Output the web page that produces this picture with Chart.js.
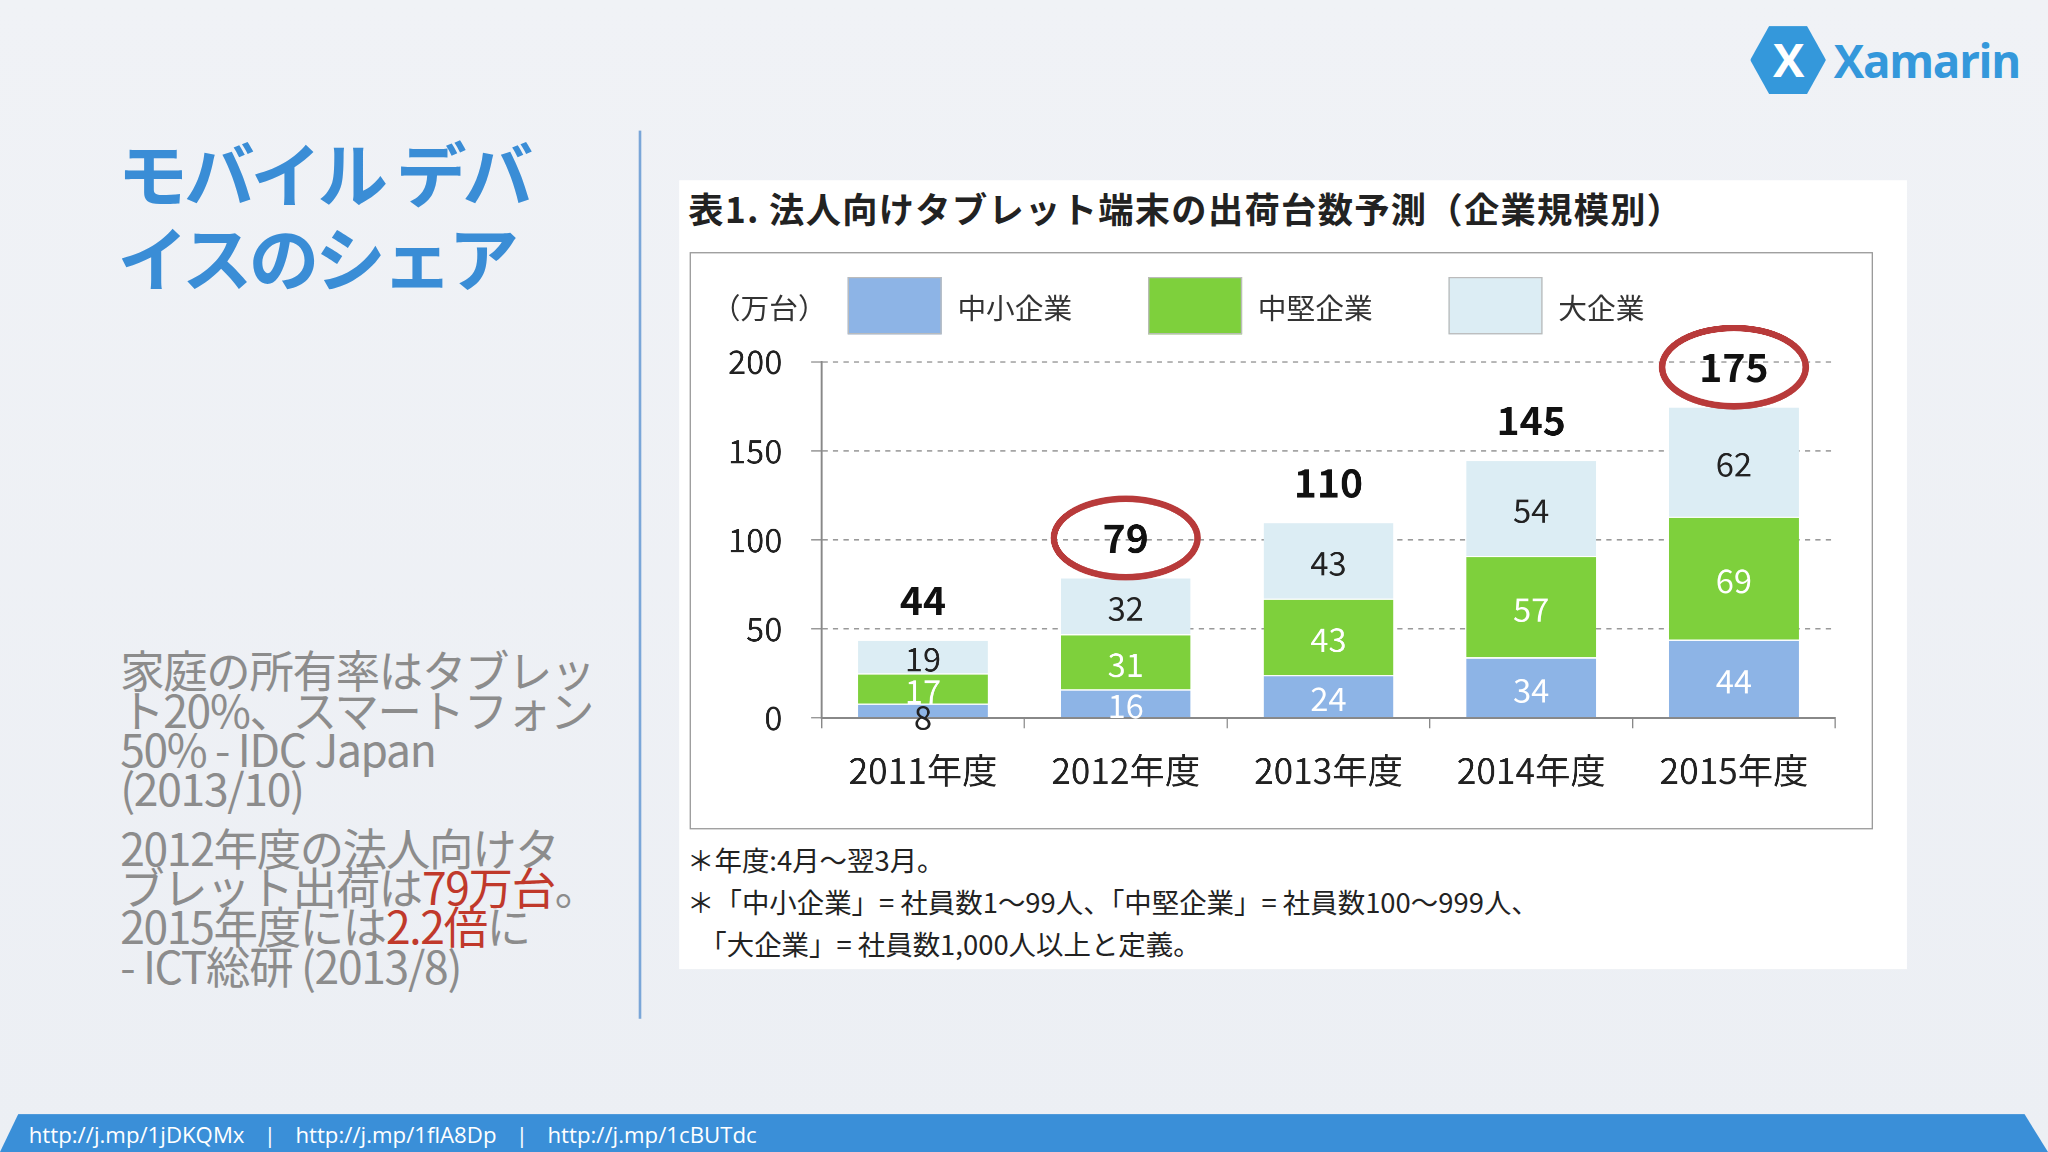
<!DOCTYPE html>
<html><head><meta charset="utf-8">
<script src="https://cdn.jsdelivr.net/npm/chart.js@4"></script>
<style>
html,body{margin:0;padding:0;background:#eef1f5;overflow:hidden}
#slide{position:absolute;left:0;top:0;width:1568px;height:882px;transform:scale(1.30612);transform-origin:0 0;
 font-family:"Noto Sans CJK JP","Noto Sans",sans-serif;background:linear-gradient(#f0f2f6,#eceff4)}
.abs{position:absolute}
#title{left:90px;top:100px;color:#3a8dd6;font-size:54px;font-weight:bold;line-height:64px;letter-spacing:-3px}
#body{left:92px;top:498px;color:#8c8c8c;font-size:34px;line-height:30px;white-space:nowrap;letter-spacing:-1px}
#body p{margin:0 0 16px 0}
.red{color:#c0392b}
#divider{left:489px;top:100px;width:2px;height:680px;background:#7aa6d8}
#panel{left:520px;top:138px;width:940px;height:604px;background:#fff}
#ctitle{left:527px;top:140px;font-size:27px;font-weight:bold;color:#222;letter-spacing:1px}
#box{left:528px;top:193px;width:904px;height:440px;border:1.5px solid #999;background:#fff}
#legend{left:545px;top:212px;font-size:22px;color:#333;display:flex;align-items:center}
.lg{display:flex;align-items:center}
.sw{width:70px;height:42px;margin-right:12px;border:1px solid #bbb}
#notes{left:526px;top:642px;font-size:21px;color:#222;line-height:32px}
#footer{left:0;top:853px;width:1568px;height:29px;background:#3a8fd8;clip-path:polygon(14px 0,1550px 0,1568px 100%,0 100%);
 color:#fff;font-size:17px;line-height:31px;padding-left:22px;box-sizing:border-box;font-family:"Open Sans",sans-serif;word-spacing:3px}
#logo{left:1340px;top:20px;display:flex;align-items:center;color:#3498db;font-size:35px;font-weight:bold;font-family:"Open Sans",sans-serif;letter-spacing:-1px}
#hex{width:58px;height:52px;background:#3498db;clip-path:polygon(25% 0,75% 0,100% 50%,75% 100%,25% 100%,0 50%);
 color:#fff;font-size:36px;text-align:center;line-height:52px;margin-right:6px}
</style></head>
<body>
<div id="slide">
 <div id="logo" class="abs"><div id="hex">X</div>Xamarin</div>
 <div id="title" class="abs">モバイル デバ<br>イスのシェア</div>
 <div id="body" class="abs">
  <p>家庭の所有率はタブレッ<br>ト20%、スマートフォン<br>50% - IDC Japan<br>(2013/10)</p>
  <p>2012年度の法人向けタ<br>ブレット出荷は<span class="red">79万台</span>。<br>2015年度には<span class="red">2.2倍</span>に<br>- ICT総研 (2013/8)</p>
 </div>
 <div id="divider" class="abs"></div>
 <div id="panel" class="abs"></div>
 <div id="ctitle" class="abs">表1. 法人向けタブレット端末の出荷台数予測（企業規模別）</div>
 <div id="box" class="abs"><canvas id="chart" width="904" height="440"></canvas></div>
 <div id="legend" class="abs"></div>
 <div id="notes" class="abs">＊年度:4月～翌3月。<br>＊「中小企業」= 社員数1～99人、「中堅企業」= 社員数100～999人、<br>&nbsp;&nbsp;「大企業」= 社員数1,000人以上と定義。</div>
 <div id="footer" class="abs">http://j.mp/1jDKQMx &nbsp;| &nbsp;http://j.mp/1flA8Dp &nbsp;| &nbsp;http://j.mp/1cBUTdc</div>
</div>
<script>
const years = ['2011年度', '2012年度', '2013年度', '2014年度', '2015年度'];
const seriesNames = ['中小企業', '中堅企業', '大企業'];
const small = [8, 16, 24, 34, 44];
const medium = [17, 31, 43, 57, 69];
const large = [19, 32, 43, 54, 62];
const totals = [44, 79, 110, 145, 175];
const circled = [1, 4];
const colors = ['#8db4e6', '#7ed03c', '#dcedf4'];
const labelColors = ['#ffffff', '#ffffff', '#222222'];

const leg = document.getElementById('legend');
leg.innerHTML = '<span style="width:104px">（万台）</span>' + seriesNames.map((n, i) =>
  `<div class="lg" style="width:230px"><div class="sw" style="background:${colors[i]}"></div>${n}</div>`).join('');

const labelPlugin = {
  id: 'labels',
  afterDatasetsDraw(chart) {
    const ctx = chart.ctx;
    ctx.save();
    ctx.textAlign = 'center';
    ctx.textBaseline = 'middle';
    chart.data.datasets.forEach((ds, di) => {
      chart.getDatasetMeta(di).data.forEach((bar, i) => {
        const h = bar.base - bar.y;
        ctx.font = '25px "Noto Sans CJK JP", sans-serif';
        ctx.fillStyle = h < 20 ? '#222' : labelColors[di];
        ctx.fillText(ds.data[i], bar.x, h < 20 ? bar.base : (bar.y + bar.base) / 2 + 2);
      });
    });
    const top = chart.getDatasetMeta(2).data;
    top.forEach((bar, i) => {
      const y = bar.y - 30;
      ctx.font = 'bold 30px "Noto Sans CJK JP", sans-serif';
      ctx.fillStyle = '#111';
      ctx.fillText(totals[i], bar.x, y);
      if (circled.includes(i)) {
        ctx.strokeStyle = '#b83a3a';
        ctx.lineWidth = 5;
        ctx.beginPath();
        ctx.ellipse(bar.x, y, 55, 30, 0, 0, Math.PI * 2);
        ctx.stroke();
      }
    });
    ctx.restore();
  }
};

new Chart(document.getElementById('chart'), {
  type: 'bar',
  data: {
    labels: years,
    datasets: [small, medium, large].map((d, i) => ({
      label: seriesNames[i], data: d, backgroundColor: colors[i],
      borderColor: '#ffffff', borderWidth: {top: 1}, borderSkipped: false,
      barPercentage: 0.64, categoryPercentage: 1
    }))
  },
  options: {
    responsive: false,
    animation: false,
    devicePixelRatio: 2.6,
    layout: {padding: {top: 83, right: 28, left: 10, bottom: 12}},
    plugins: {legend: {display: false}, tooltip: {enabled: false}},
    scales: {
      x: {
        stacked: true,
        grid: {display: true, drawOnChartArea: false, offset: true, tickLength: 8, color: '#888'},
        border: {color: '#888', width: 1.5},
        ticks: {color: '#222', font: {size: 27, family: '"Noto Sans CJK JP"'}, padding: 16}
      },
      y: {
        stacked: true, min: 0, max: 200,
        ticks: {stepSize: 50, color: '#222', font: {size: 25, family: '"Noto Sans CJK JP"'}, padding: 22},
        grid: {color: '#999', tickLength: 8},
        border: {dash: [4, 4], color: '#888', width: 1.5},
        afterFit(s) { s.width = 90; }
      }
    }
  },
  plugins: [labelPlugin]
});
</script>
</body></html>
